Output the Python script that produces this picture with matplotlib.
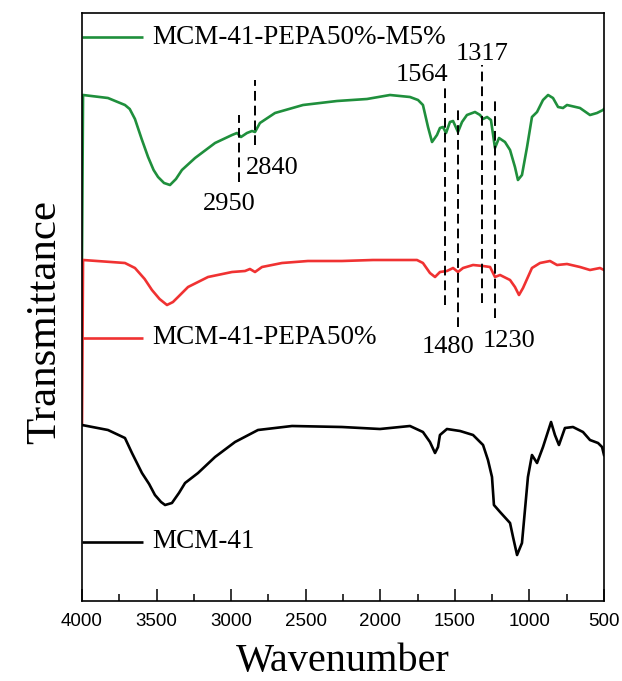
import matplotlib
matplotlib.use("Agg")
import matplotlib.pyplot as plt
from matplotlib.ticker import MultipleLocator

# FTIR spectra (transmittance in arbitrary offset units)
wn_m5 = [4000, 3993, 3826, 3712, 3680, 3645, 3600, 3557, 3520, 3490, 3450, 3410, 3370,
         3330, 3242, 3108, 2994, 2961, 2934, 2894, 2860, 2840, 2807, 2706, 2518, 2290,
         2089, 1935, 1801, 1747, 1714, 1680, 1653, 1620, 1600, 1580, 1559, 1533, 1512,
         1479, 1452, 1419, 1365, 1331, 1311, 1284, 1258, 1231, 1204, 1164, 1130, 1097,
         1077, 1050, 1016, 983, 949, 909, 875, 842, 808, 775, 748, 661, 594, 547, 507, 500]
t_m5 = [341, 506, 503, 496, 492, 482, 462, 444, 431, 424, 418, 416, 422,
        431, 443, 458, 466, 468, 464, 468, 470, 469, 478, 488, 496, 500,
        502, 506, 504, 501, 496, 474, 459, 466, 473, 474, 468, 479, 480,
        469, 479, 486, 489, 486, 482, 484, 481, 453, 463, 459, 451, 434,
        421, 426, 454, 484, 489, 501, 506, 503, 494, 493, 496, 493, 486, 488, 491, 492]

wn_pepa = [4000, 3993, 3712, 3645, 3580, 3531, 3480, 3430, 3390, 3356, 3289, 3155, 2994,
           2907, 2874, 2840, 2793, 2659, 2485, 2257, 2049, 1754, 1714, 1667, 1633, 1600,
           1553, 1512, 1479, 1445, 1378, 1311, 1264, 1231, 1197, 1130, 1097, 1070, 1043,
           983, 929, 862, 815, 748, 661, 594, 527, 500]
t_pepa = [176, 341, 338, 333, 322, 311, 302, 296, 299, 304, 314, 324, 329,
          330, 332, 329, 334, 338, 340, 340, 341, 341, 338, 328, 324, 329,
          330, 333, 329, 333, 336, 335, 334, 324, 326, 321, 314, 306, 313,
          333, 338, 340, 336, 337, 334, 331, 333, 331]

wn_mcm = [4000, 3826, 3712, 3665, 3598, 3550, 3511, 3470, 3443, 3397, 3350, 3309, 3222,
          3108, 2974, 2820, 2592, 2257, 2002, 1801, 1714, 1667, 1633, 1613, 1600, 1553,
          1465, 1378, 1311, 1278, 1251, 1238, 1197, 1130, 1110, 1083, 1050, 1030, 1010,
          983, 949, 909, 855, 829, 802, 762, 708, 641, 594, 540, 513, 500]
t_mcm = [176, 171, 163, 148, 128, 117, 106, 99, 96, 98, 108, 118, 128,
         144, 159, 171, 175, 174, 172, 175, 169, 159, 148, 154, 166, 172,
         170, 166, 156, 141, 124, 96, 89, 78, 64, 46, 58, 91, 124,
         146, 138, 154, 179, 166, 156, 173, 174, 169, 161, 158, 154, 146]

names = ["MCM-41-PEPA50%-M5%", "MCM-41-PEPA50%", "MCM-41"]
colors = ["#1f8f3c", "#f03232", "black"]
legend_y = [564, 263, 59]

peaks = [2950, 2840, 1564, 1480, 1317, 1230]
peak_lo = [419, 456, 296, 274, 298, 283]
peak_hi = [486, 521, 514, 493, 536, 503]
peak_text_x = [3014, 2726, 1720, 1546, 1318, 1137]
peak_text_y = [397, 433, 526, 254, 547, 260]

serif = "Liberation Serif"
sans = "Liberation Sans"

fig = plt.figure(figsize=(6.22, 6.81), dpi=100)
ax = fig.add_axes([82 / 622, 80 / 681, 522 / 622, 588 / 681])

series = [(wn_m5, t_m5), (wn_pepa, t_pepa), (wn_mcm, t_mcm)]
for (x, y), c in zip(series, colors):
    ax.plot(x, y, color=c, lw=1.9, solid_joinstyle="round")

# legend-like labels
for name, c, ly in zip(names, colors, legend_y):
    ax.plot([4000, 3591], [ly, ly], color=c, lw=1.9, solid_capstyle="butt")
    ax.text(3531, ly, name, family=serif, fontsize=19.5, va="center", ha="left")

# dashed peak markers
for p, lo, hi in zip(peaks, peak_lo, peak_hi):
    ax.plot([p, p], [lo, hi], color="black", lw=1.4, linestyle=(0, (5, 2.6)))
for p, tx, ty in zip(peaks, peak_text_x, peak_text_y):
    ax.text(tx, ty, str(p), family=serif, fontsize=19, ha="center", va="center")

ax.set_xlim(4000, 500)
ax.set_ylim(0, 588)
ax.xaxis.set_major_locator(MultipleLocator(500))
ax.xaxis.set_minor_locator(MultipleLocator(250))
ax.tick_params(axis="x", which="major", direction="in", length=8.5, width=1.1,
               top=False, labelsize=13.5, pad=9)
ax.tick_params(axis="x", which="minor", direction="in", length=5, width=1.1, top=False)
ax.set_yticks([])
for lab in ax.get_xticklabels():
    lab.set_family(sans)
for s in ax.spines.values():
    s.set_linewidth(1.2)

ax.set_xlabel("Wavenumber", family=serif, fontsize=29, labelpad=9)
ax.set_ylabel("Transmittance", family=serif, fontsize=31)
ax.yaxis.set_label_coords(-0.035, 0.475)

fig.savefig("out.png", dpi=100)
